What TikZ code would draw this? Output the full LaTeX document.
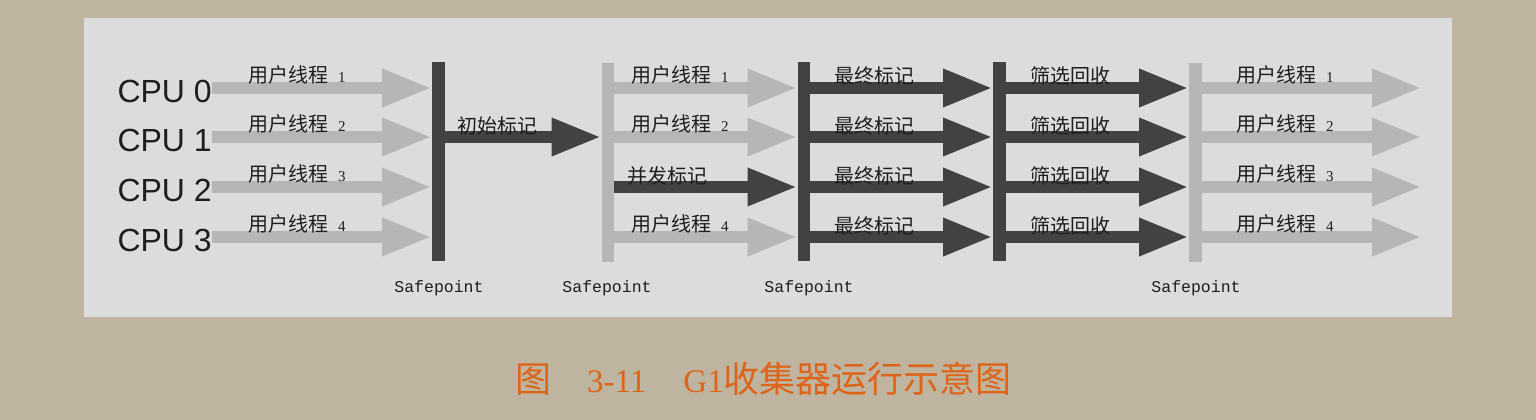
\documentclass[tikz,border=0pt]{standalone}
\usepackage{fontspec}
\setmainfont{Liberation Sans}
\newfontfamily\cjk{Noto Sans CJK SC}
\newfontfamily\serifnum{Liberation Serif}
\newfontfamily\monofnt{Liberation Mono}
\usetikzlibrary{arrows.meta}
\definecolor{bgtan}{RGB}{190,180,160}
\definecolor{panel}{RGB}{220,220,220}
\definecolor{darkg}{RGB}{66,66,66}
\definecolor{lightg}{RGB}{182,182,182}
\definecolor{capor}{RGB}{222,100,24}
\definecolor{txt}{RGB}{30,30,30}
\newcommand\dnum[1]{{\serifnum\fontsize{15}{18}\selectfont #1}}
\tikzset{
  bar/.style={rectangle, inner sep=0pt, minimum width=12.5pt, minimum height=198pt},
  darkbar/.style={bar, fill=darkg},
  lightbar/.style={bar, fill=lightg},
  flow/.style={line width=12pt, -{Triangle[length=50pt,width=35pt]}},
  darkflow/.style={flow, draw=darkg},
  lightflow/.style={flow, draw=lightg},
  lbl/.style={anchor=base west, inner sep=0pt, text=txt, font=\cjk\fontsize{20}{24}\selectfont},
  cpulbl/.style={anchor=east, inner sep=0pt, text=txt, font=\fontsize{32}{36}\selectfont},
  sp/.style={inner sep=0pt, text=txt, font=\monofnt\fontsize{16.5}{18}\selectfont},
}
\begin{document}
\begin{tikzpicture}[x=1pt,y=-1pt]
\useasboundingbox (0,0) rectangle (1536,420);
\fill[bgtan] (0,0) rectangle (1536,420);
\fill[panel] (84,18) rectangle (1452,317);

\node[darkbar]  (b1) at (438.5,161.5) {};
\node[lightbar] (b2) at (608,162.5) {};
\node[darkbar]  (b3) at (804,161.5) {};
\node[darkbar]  (b4) at (999.5,161.5) {};
\node[lightbar] (b5) at (1195.5,162.5) {};

\foreach \i/\y/\n in {0/88/1,1/137/2,2/187/3,3/237/4} {
  \coordinate (r\i) at (0,\y);
  \coordinate (e\i) at (1422,\y);
}

% section 1: user threads
\foreach \i/\y/\n in {0/88/1,1/137/2,2/187/3,3/237/4} {
  \node[cpulbl] (cpu\i) at (212,\y+3) {CPU \i};
  \draw[lightflow] (cpu\i.east |- r\i) -- (b1.west |- r\i);
  \node[lbl] (ua\i) at (248,\y-6) {用户线程\hspace{10pt}\dnum{\n}};
}

% section 2: initial mark
\draw[darkflow] (b1.east |- r1) -- (b2.west |- r1);
\node[lbl] (init) at (457,133) {初始标记};

% section 3: concurrent mark
\foreach \i/\y/\n in {0/88/1,1/137/2,3/237/4} {
  \draw[lightflow] (b2.east |- r\i) -- (b3.west |- r\i);
  \node[lbl] (ub\i) at (631,\y-6) {用户线程\hspace{10pt}\dnum{\n}};
}
\draw[darkflow] (b2.east |- r2) -- (b3.west |- r2);
\node[lbl] (conc) at (627,183) {并发标记};

% section 4 and 5
\foreach \i/\y in {0/88,1/137,2/187,3/237} {
  \draw[darkflow] (b3.east |- r\i) -- (b4.west |- r\i);
  \node[lbl] (fm\i) at (834,\y-4) {最终标记};
  \draw[darkflow] (b4.east |- r\i) -- (b5.west |- r\i);
  \node[lbl] (ev\i) at (1030,\y-4) {筛选回收};
}

% section 6
\foreach \i/\y/\n in {0/88/1,1/137/2,2/187/3,3/237/4} {
  \draw[lightflow] (b5.east |- r\i) -- (e\i);
  \node[lbl] (uc\i) at (1236,\y-6) {用户线程\hspace{10pt}\dnum{\n}};
}

% safepoints
\node[sp] (sp1) at (439,288) {Safepoint};
\node[sp] (sp2) at (607,288) {Safepoint};
\node[sp] (sp3) at (809,288) {Safepoint};
\node[sp] (sp4) at (1196,288) {Safepoint};

% caption
\node[anchor=base west, inner sep=0pt, text=capor, font=\cjk\fontsize{36}{40}\selectfont] (cap) at (515,392)
  {图\hspace{36pt}{\serifnum\fontsize{33}{36}\selectfont 3-11}\hspace{37pt}{\serifnum\fontsize{33}{36}\selectfont G1}收集器运行示意图};
\end{tikzpicture}
\end{document}
